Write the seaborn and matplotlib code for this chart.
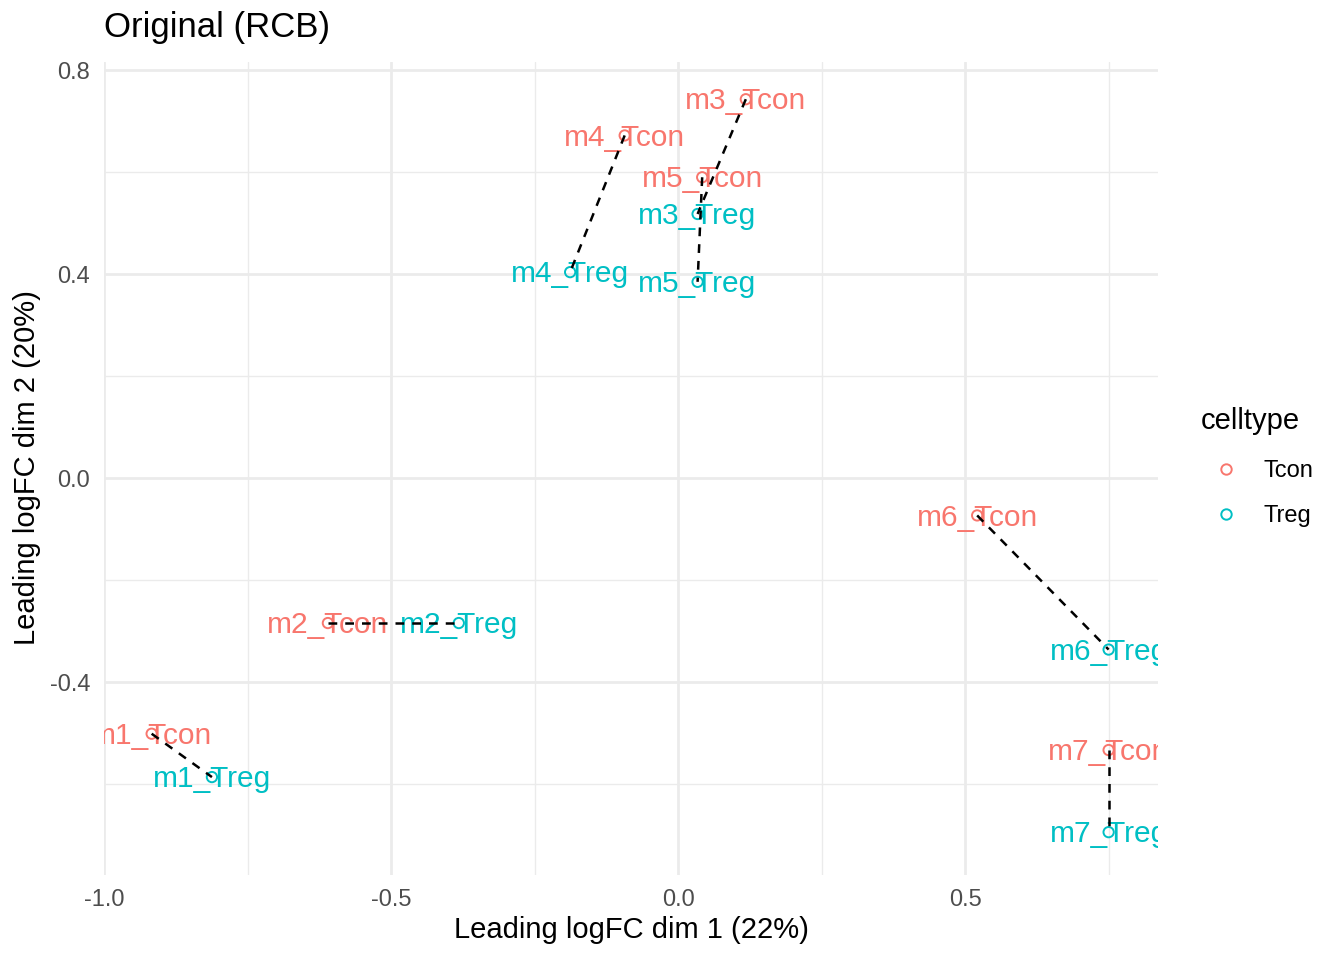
import numpy as np
import pandas as pd
import matplotlib
matplotlib.use("Agg")
import matplotlib.pyplot as plt
import seaborn as sns
from matplotlib.lines import Line2D

# sample pairs (Tcon / Treg) on the first two leading logFC dims
samples = ["m1", "m2", "m3", "m4", "m5", "m6", "m7"]
tcon_dim1 = [-0.917, -0.610, 0.118, -0.093, 0.042, 0.521, 0.750]
tcon_dim2 = [-0.501, -0.284, 0.743, 0.672, 0.590, -0.073, -0.533]
treg_dim1 = [-0.812, -0.382, 0.034, -0.188, 0.034, 0.750, 0.750]
treg_dim2 = [-0.586, -0.284, 0.518, 0.404, 0.385, -0.336, -0.694]

celltypes = ["Tcon", "Treg"]
palette = {"Tcon": "#F8766D", "Treg": "#00BFC4"}

df = pd.DataFrame({
    "sample": samples * 2,
    "celltype": ["Tcon"] * len(samples) + ["Treg"] * len(samples),
    "dim1": tcon_dim1 + treg_dim1,
    "dim2": tcon_dim2 + treg_dim2,
})
df["label"] = df["sample"] + "_" + df["celltype"]

sns.set_style("white")
plt.rcParams["font.family"] = ["Liberation Sans", "DejaVu Sans"]
plt.rcParams["text.color"] = "black"

W, H = 1344, 960
fig = plt.figure(figsize=(W / 100, H / 100), dpi=100)
L, R, T, B = 104, 1158, 62, 875
ax = fig.add_axes([L / W, 1 - B / H, (R - L) / W, (B - T) / H])

# points: hollow circles
sns.scatterplot(data=df, x="dim1", y="dim2", hue="celltype", palette=palette,
                s=55, marker="o", legend=False, ax=ax, zorder=3)
coll = ax.collections[-1]
fc = coll.get_facecolors()
coll.set_edgecolors(fc)
coll.set_facecolors("none")
coll.set_linewidth(1.4)

# labels centered on the points
for _, r in df.iterrows():
    ax.annotate(r["label"], (r["dim1"], r["dim2"]), xytext=(0, -1.5),
                textcoords="offset points", color=palette[r["celltype"]],
                ha="center", va="center", fontsize=21.5,
                annotation_clip=False, clip_on=True, zorder=4)

# dashed segments linking the pairs
for i in range(len(samples)):
    ax.plot([tcon_dim1[i], treg_dim1[i]], [tcon_dim2[i], treg_dim2[i]],
            color="black", lw=1.8, ls=(0, (3.5, 3.2)), zorder=5)

ax.set_xlim(-1.0, 0.836)
ax.set_ylim(-0.778, 0.816)
ax.set_xticks([-1.0, -0.5, 0.0, 0.5])
ax.set_xticklabels(["-1.0", "-0.5", "0.0", "0.5"])
ax.set_yticks([-0.4, 0.0, 0.4, 0.8])
ax.set_yticklabels(["-0.4", "0.0", "0.4", "0.8"])
ax.set_xticks([-0.75, -0.25, 0.25, 0.75], minor=True)
ax.set_yticks([-0.6, -0.2, 0.2, 0.6], minor=True)
ax.grid(True, which="major", color="#EBEBEB", lw=2.0)
ax.grid(True, which="minor", color="#EBEBEB", lw=1.0)
ax.set_axisbelow(True)
for sp in ax.spines.values():
    sp.set_visible(False)
ax.tick_params(which="both", length=0, labelsize=17, colors="#4D4D4D")
ax.tick_params(axis="x", pad=10)
ax.tick_params(axis="y", pad=10)
ax.set_xlabel("")
ax.set_ylabel("")

fig.text((L + R) / 2 / W, 1 - 930 / H, "Leading logFC dim 1 (22%)",
         ha="center", va="center", fontsize=21, color="black")
fig.text(27 / W, 1 - 468 / H, "Leading logFC dim 2 (20%)", rotation=90,
         ha="center", va="center", fontsize=21, color="black")
fig.text(L / W, 1 - 28 / H, "Original (RCB)", ha="left", va="center",
         fontsize=25, color="black")

# legend
handles = [Line2D([], [], marker="o", ls="none", markerfacecolor="none",
                  markeredgecolor=palette[c], markeredgewidth=1.4, markersize=7.5)
           for c in celltypes]
leg = fig.legend(handles, celltypes, title="celltype", loc="upper left",
                 bbox_to_anchor=(1201 / W, 1 - 407 / H), frameon=False,
                 fontsize=17, title_fontsize=21, handletextpad=0.55,
                 handlelength=2.1, labelspacing=0.98, borderaxespad=0,
                 borderpad=0, labelcolor="black")
leg.get_title().set_color("black")
leg._legend_box.align = "left"
leg._legend_box.sep = 18

fig.savefig("out.png", dpi=100)
